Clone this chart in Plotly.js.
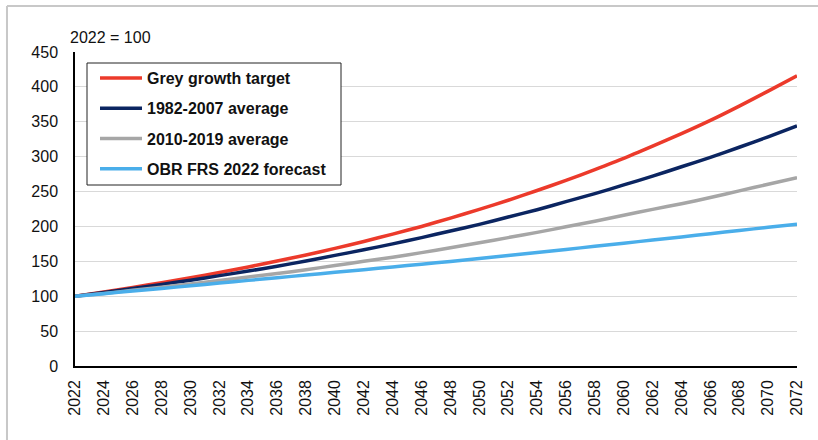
<!DOCTYPE html>
<html>
<head>
<meta charset="utf-8">
<script src="https://cdn.plot.ly/plotly-3.0.1.min.js"></script>
<style>
  html, body { margin: 0; padding: 0; background: #ffffff; }
  #chart { width: 818px; height: 440px; }
</style>
</head>
<body>
<div id="chart"></div>
<script>
const years = [2022, 2024, 2026, 2028, 2030, 2032, 2034, 2036, 2038, 2040, 2042, 2044, 2046,
               2048, 2050, 2052, 2054, 2056, 2058, 2060, 2062, 2064, 2066, 2068, 2070, 2072];

const greyGrowthTarget = [100, 106, 112.5, 119.5, 126.5, 134, 142, 150.5, 159, 168.5, 178.5, 189, 200,
                          212, 224.5, 237.5, 251.5, 266, 281.5, 297.5, 315, 333, 352, 372.5, 394, 416];

const avg1982_2007 = [100, 105.5, 111, 117, 123, 129.5, 136, 143, 150.5, 158.5, 166.5, 175, 184,
                      193.5, 203, 213.5, 224, 235.5, 247, 259.5, 272, 285.5, 299, 313.5, 328.5, 344];

const avg2010_2019 = [100, 104, 108.5, 113, 117.5, 122.5, 127.5, 132.5, 138, 144, 150, 156, 162.5,
                      169.5, 176.5, 184, 191.5, 199.5, 207.5, 216, 224.5, 232.5, 241.5, 251, 260.5, 270];

const obrFrs2022 = [100, 103.7, 107.4, 111.1, 115, 118.8, 122.7, 126.5, 130.4, 134.2, 138.1, 142, 145.8,
                    149.9, 154.2, 158.5, 162.8, 167.1, 171.5, 176, 180.5, 185, 189.6, 194.2, 198.8, 203];

const seriesNames = ["Grey growth target", "1982-2007 average", "2010-2019 average", "OBR FRS 2022 forecast"];
const seriesColors = ["#ec3a2b", "#0b2561", "#a6a6a6", "#4aaeea"];
const seriesData = [greyGrowthTarget, avg1982_2007, avg2010_2019, obrFrs2022];

const traces = seriesData.map((vals, i) => ({
  type: "scatter",
  mode: "lines",
  x: years,
  y: vals,
  name: seriesNames[i],
  legendgroup: "g" + i,
  line: { color: seriesColors[i], width: 3.5, shape: "spline", smoothing: 0.6 },
  hoverinfo: "x+y+name"
}));

const fontFam = "Liberation Sans, Arial, sans-serif";

// plot area: x 75..797 px, y 52..366 px
const px = v => (v - 75) / 722;
const py = v => (366 - v) / 314;

const layout = {
  width: 818,
  height: 440,
  margin: { l: 75, r: 21, t: 52, b: 74 },
  paper_bgcolor: "#ffffff",
  plot_bgcolor: "#ffffff",
  font: { family: fontFam, size: 16, color: "#111111" },
  showlegend: true,
  legend: {
    x: px(95), y: py(61), xanchor: "left", yanchor: "top",
    bgcolor: "rgba(255,255,255,0)",
    borderwidth: 0,
    font: { family: fontFam, size: 16, color: "#111111", weight: "bold" },
    traceorder: "grouped",
    tracegroupgap: 6.5,
    itemwidth: 42
  },
  xaxis: {
    range: [2022, 2072],
    tickmode: "array",
    tickvals: years,
    ticktext: years.map(String),
    tickangle: -90,
    showgrid: false,
    zeroline: false,
    showline: true,
    linecolor: "#000000",
    linewidth: 1.5,
    ticks: "",
    ticklabelstandoff: 6,
    tickfont: { family: fontFam, size: 16, color: "#111111" }
  },
  yaxis: {
    range: [0, 450],
    dtick: 50,
    tick0: 0,
    showgrid: true,
    gridcolor: "#d9d9d9",
    gridwidth: 1,
    zeroline: false,
    showline: true,
    linecolor: "#000000",
    linewidth: 1.5,
    ticks: "",
    ticklabelstandoff: 12,
    tickfont: { family: fontFam, size: 16, color: "#111111" }
  },
  annotations: [{
    text: "2022 = 100",
    xref: "paper", yref: "paper",
    x: -0.0097, y: 1.013,
    xanchor: "left", yanchor: "bottom",
    showarrow: false,
    font: { family: fontFam, size: 16, color: "#111111" }
  }],
  shapes: [
    { type: "rect", xref: "paper", yref: "paper", layer: "above",
      x0: px(87), x1: px(341), y0: py(185), y1: py(63),
      fillcolor: "#ffffff", line: { color: "#222222", width: 1 } },
    { type: "line", xref: "paper", yref: "paper", x0: -0.0942, x1: -0.0942, y0: -0.26, y1: 1.1465,
      line: { color: "#c8c8c8", width: 2 } },
    { type: "line", xref: "paper", yref: "paper", x0: -0.0942, x1: 1.04, y0: 1.1465, y1: 1.1465,
      line: { color: "#c8c8c8", width: 2 } }
  ]
};

Plotly.newPlot("chart", traces, layout, { displayModeBar: false });
</script>
</body>
</html>
